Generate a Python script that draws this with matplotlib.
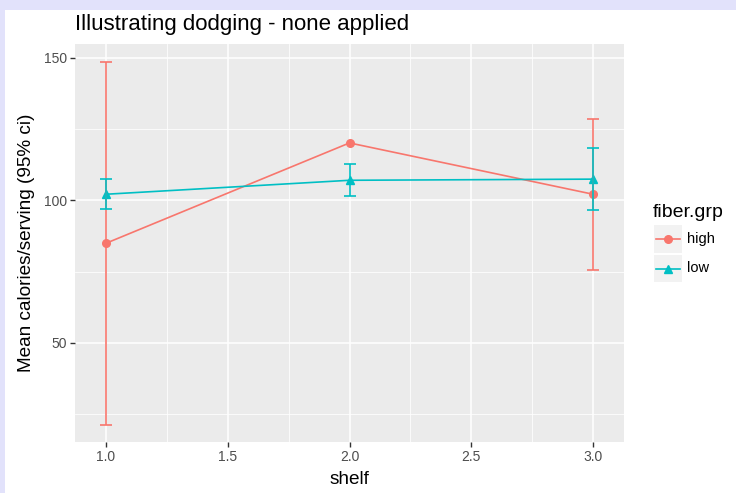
import numpy as np
import matplotlib
matplotlib.use("Agg")
import matplotlib.pyplot as plt
from matplotlib.patches import Rectangle
from matplotlib.lines import Line2D

# ---- data ----
shelves = [1.0, 2.0, 3.0]
high_mean = [84.9, 120.1, 102.1]
high_lo = [21.1, np.nan, 75.7]
high_hi = [148.6, np.nan, 128.5]
low_mean = [102.1, 107.0, 107.4]
low_lo = [96.8, 101.4, 96.5]
low_hi = [107.4, 112.7, 118.3]
groups = ["high", "low"]
x_ticks = [1.0, 1.5, 2.0, 2.5, 3.0]
x_ticklabels = ["1.0", "1.5", "2.0", "2.5", "3.0"]
y_ticks = [50, 100, 150]
y_ticklabels = ["50", "100", "150"]
title = "Illustrating dodging - none applied"
xlabel = "shelf"
ylabel = "Mean calories/serving (95% ci)"
legend_title = "fiber.grp"

RED = "#F8766D"
TEAL = "#00BFC4"
W, H = 736, 493

plt.rcParams['font.family'] = ['Liberation Sans', 'DejaVu Sans']

fig = plt.figure(figsize=(W / 100, H / 100), dpi=100)
fig.patch.set_facecolor("white")

def fx(px):
    return px / W

def fy(py):
    return 1 - py / H

# lavender page border (screenshot frame)
LAV = "#E2E2FB"
fig.add_artist(Rectangle((0, fy(10)), 1, 1 - fy(10), transform=fig.transFigure,
                         facecolor=LAV, edgecolor="none", zorder=0))
fig.add_artist(Rectangle((0, 0), fx(5), 1, transform=fig.transFigure,
                         facecolor=LAV, edgecolor="none", zorder=0))

left, right, top, bottom = 75, 624, 44, 442
ax = fig.add_axes([fx(left), fy(bottom), fx(right) - fx(left), fy(top) - fy(bottom)])
ax.set_facecolor("#EBEBEB")
for s in ax.spines.values():
    s.set_visible(False)

ax.set_xlim(0.873, 3.127)
ax.set_ylim(15.2, 154.8)

ax.set_xticks(x_ticks)
ax.set_xticklabels(x_ticklabels)
ax.set_yticks(y_ticks)
ax.set_yticklabels(y_ticklabels)
ax.set_xticks([1.25, 1.75, 2.25, 2.75], minor=True)
ax.set_yticks([25, 75, 125], minor=True)
ax.grid(which="major", color="white", linewidth=1.1)
ax.grid(which="minor", color="white", linewidth=0.55)
ax.set_axisbelow(True)
ax.tick_params(which="major", length=3.5, width=1.0, color="#333333",
               labelcolor="#4D4D4D", labelsize=10, pad=2)
ax.tick_params(which="minor", length=0)

ax.set_xlabel(xlabel, fontsize=13.7, color="black", labelpad=5)
ax.set_ylabel(ylabel, fontsize=13.7, color="black", labelpad=7)

means = [high_mean, low_mean]
los = [high_lo, low_lo]
his = [high_hi, low_hi]
colors = [RED, TEAL]
markers = ["o", "^"]

for m, c in zip(means, colors):
    ax.plot(shelves, m, color=c, lw=1.2, zorder=3)
for m, c, mk in zip(means, colors, markers):
    ax.plot(shelves, m, linestyle="none", marker=mk, color=c, markersize=5.5, zorder=4)
for m, lo, hi, c in zip(means, los, his, colors):
    m = np.array(m, float); lo = np.array(lo, float); hi = np.array(hi, float)
    ok = ~np.isnan(lo)
    xs = np.array(shelves)[ok]
    ax.errorbar(xs, m[ok], yerr=[m[ok] - lo[ok], hi[ok] - m[ok]], fmt="none",
                ecolor=c, elinewidth=1.2, capsize=4.3, capthick=1.2, zorder=5)

ax.set_title(title, loc="left", fontsize=16, color="black", pad=10)

# ---- legend (ggplot style) ----
fig.text(fx(653), fy(217), legend_title, fontsize=14, ha="left", va="baseline")
key_rows = [(225, 253), (255, 282)]
for (y0, y1), c, mk, lab in zip(key_rows, colors, markers, groups):
    fig.add_artist(Rectangle((fx(654), fy(y1)), fx(682) - fx(654), fy(y0) - fy(y1),
                             transform=fig.transFigure, facecolor="#F2F2F2",
                             edgecolor="none"))
    yc = fy((y0 + y1) / 2)
    fig.add_artist(Line2D([fx(656), fx(680)], [yc, yc], transform=fig.transFigure,
                          color=c, lw=1.2))
    fig.add_artist(Line2D([fx(668)], [yc], transform=fig.transFigure,
                          color=c, marker=mk, markersize=5.5, linestyle="none"))
    fig.text(fx(687), yc, lab, fontsize=10.5, ha="left", va="center")

fig.savefig("out.png", dpi=100)
